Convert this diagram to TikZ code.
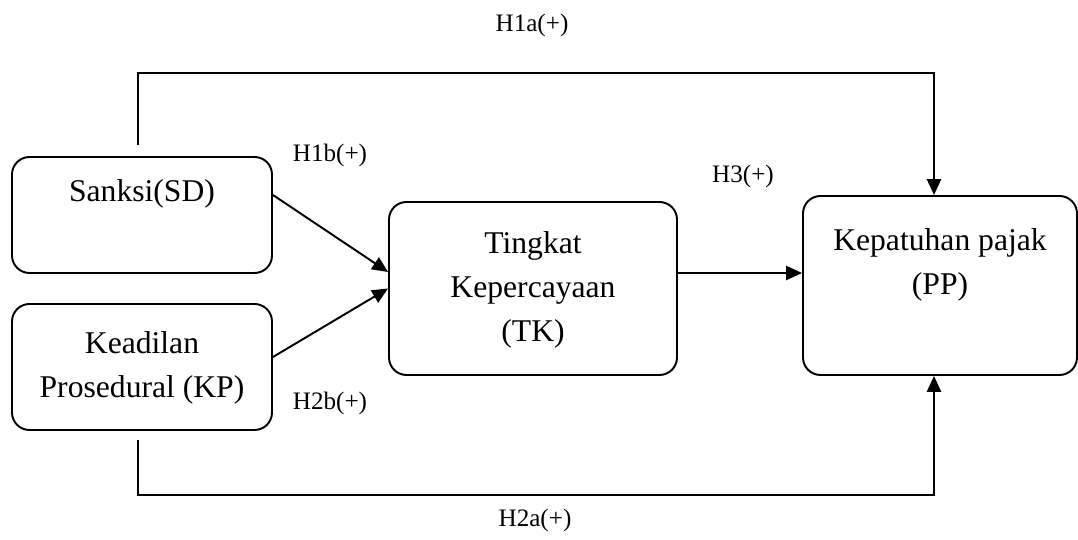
\documentclass[tikz,border=0pt]{standalone}
\usepackage{fontspec}
\setmainfont{Liberation Serif}
\usetikzlibrary{arrows.meta}

\begin{document}
\begin{tikzpicture}
\tikzstyle{kotak} = [draw, line width=1.1pt, rounded corners=0.35cm, inner sep=0pt, align=center, font=\fontsize{18}{25}\selectfont]
\tikzstyle{panah} = [line width=1.1pt, -{Triangle[length=9pt,width=8pt]}]
\tikzstyle{ket} = [font=\fontsize{14.3}{17}\selectfont]
\useasboundingbox (0,0) rectangle (21.56,10.8);
\node[kotak, minimum width=5.2cm, minimum height=2.32cm] (sd) at (2.84,6.5) {\strut Sanksi(SD)\\\strut};
\node[kotak, minimum width=5.2cm, minimum height=2.52cm] (kp) at (2.84,3.46) {\strut Keadilan\\Prosedural (KP)\strut};
\node[kotak, minimum width=5.76cm, minimum height=3.46cm] (tk) at (10.66,5.03) {\strut Tingkat\\Kepercayaan\\(TK)\strut};
\node[kotak, minimum width=5.48cm, minimum height=3.58cm] (pp) at (18.8,5.09) {\strut Kepatuhan pajak\\(PP)\\\strut};
\node[ket] (h1a) at (10.64,10.3) {H1a(+)};
\node[ket] (h1b) at (6.6,7.69) {H1b(+)};
\node[ket] (h3) at (14.86,7.28) {H3(+)};
\node[ket] (h2b) at (6.6,2.73) {H2b(+)};
\node[ket] (h2a) at (10.7,0.4) {H2a(+)};
\draw[panah] ([yshift=0.4cm]sd.east) -- ([yshift=0.33cm]tk.west);
\draw[panah] ([yshift=0.2cm]kp.east) -- (tk.west);
\draw[panah] ([yshift=0.31cm]tk.east) -- ([yshift=0.31cm]tk.east -| pp.west);
\draw[panah] ([shift={(-0.08,0.22)}]sd.north) -- ++(0,1.44) -| ([xshift=-0.12cm]pp.north);
\draw[panah] ([shift={(-0.08,-0.18)}]kp.south) -- ++(0,-1.1) -| ([xshift=-0.12cm]pp.south);
\end{tikzpicture}
\end{document}
